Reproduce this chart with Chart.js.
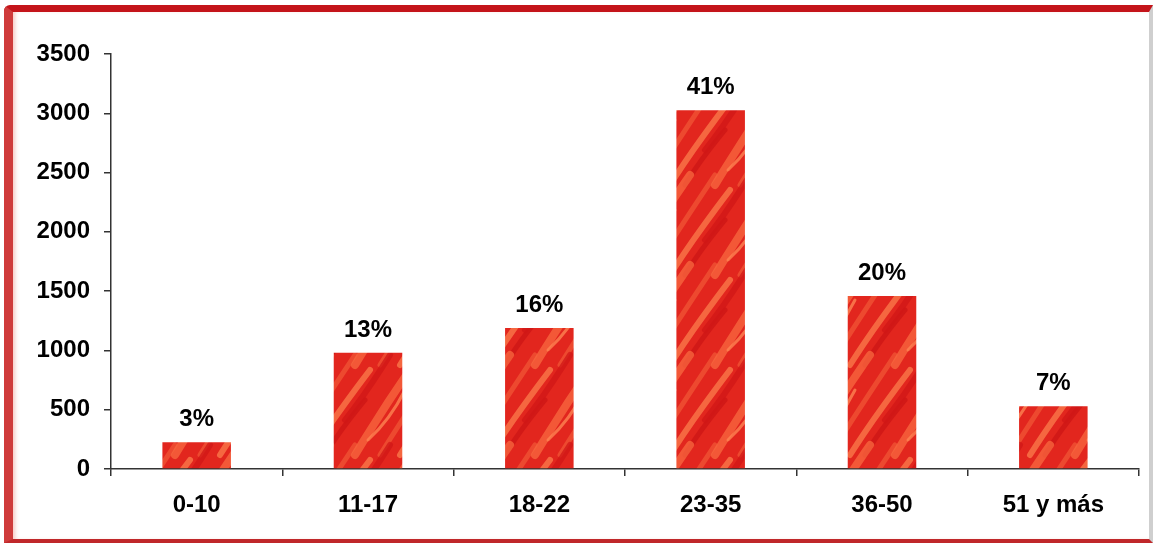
<!DOCTYPE html>
<html>
<head>
<meta charset="utf-8">
<script src="https://cdn.jsdelivr.net/npm/chart.js@4/dist/chart.umd.min.js"></script>
<style>
  html, body { margin: 0; padding: 0; background: #fff; }
  #frame {
    position: absolute; left: 4px; top: 5px; width: 1136px; height: 527px;
    border-top: 7px solid #c4141a;
    border-left: 9px solid #cf3b3b;
    border-bottom: 4px solid #c0282a;
    border-right: 4px solid #cfcfcf;
    border-top-left-radius: 6px;
    background: #fff;
    box-shadow: inset 4px 0 4px -2px rgba(240,160,150,0.6);
  }
  #wrap { position: absolute; left: 0; top: 0; width: 1157px; height: 548px; }
</style>
</head>
<body>
<div id="frame"></div>
<div id="wrap"><canvas id="edadChart"></canvas></div>
<script>
// rangos de edad
var categorias = ['0-10', '11-17', '18-22', '23-35', '36-50', '51 y más'];
var valores = [225, 980, 1190, 3025, 1460, 530];
var porcentajes = ['3%', '13%', '16%', '41%', '20%', '7%'];
var ticksY = [0, 500, 1000, 1500, 2000, 2500, 3000, 3500];

var fuente = '"Liberation Sans", Arial, sans-serif';

// textura roja de las barras (tile sin costuras)
function texturaRoja() {
    var t = 90;
    var c = document.createElement('canvas');
    c.width = t; c.height = t;
    var g = c.getContext('2d');
    g.fillStyle = '#e2261e';
    g.fillRect(0, 0, t, t);
    var trazos = [
        [-5, 95, 25, 45, 60, -5, '#f86a40', 8],
        [20, 95, 45, 55, 85, -5, '#f05535', 5],
        [40, 95, 62, 60, 100, 10, '#fb7e4c', 6],
        [-15, 60, 5, 35, 30, -5, '#d01717', 6],
        [55, 95, 70, 70, 95, 40, '#cc1616', 5],
        [8, 80, 30, 60, 45, 30, '#ff8a55', 3]
    ];
    g.lineCap = 'round';
    for (var dx = -t; dx <= t; dx += t) {
        for (var dy = -t; dy <= t; dy += t) {
            trazos.forEach(function (s) {
                g.strokeStyle = s[6];
                g.lineWidth = s[7];
                g.globalAlpha = 0.75;
                g.beginPath();
                g.moveTo(s[0] + dx, s[1] + dy);
                g.quadraticCurveTo(s[2] + dx, s[3] + dy, s[4] + dx, s[5] + dy);
                g.stroke();
            });
        }
    }
    return g.createPattern(c, 'repeat');
}

var etiquetasPlugin = {
    id: 'etiquetas',
    afterDatasetsDraw: function (chart) {
        var ctx = chart.ctx;
        var meta = chart.getDatasetMeta(0);
        ctx.save();
        ctx.font = 'bold 24px ' + fuente;
        ctx.fillStyle = '#000';
        ctx.textAlign = 'center';
        ctx.textBaseline = 'alphabetic';
        meta.data.forEach(function (bar, i) {
            ctx.fillText(porcentajes[i], bar.x, bar.y - 16);
        });
        ctx.restore();
    }
};

var ctxEdad = document.getElementById('edadChart').getContext('2d');
var edadChart = new Chart(ctxEdad, {
    type: 'bar',
    data: {
        labels: categorias,
        datasets: [{
            data: valores,
            backgroundColor: texturaRoja(),
            borderWidth: 0,
            barPercentage: 0.4,
            categoryPercentage: 1
        }]
    },
    options: {
        responsive: true,
        maintainAspectRatio: false,
        animation: false,
        layout: { padding: { top: 54, right: 18, left: 0, bottom: 0 } },
        plugins: { legend: { display: false }, tooltip: { enabled: false } },
        scales: {
            y: {
                min: 0,
                max: 3500,
                afterBuildTicks: function (axis) {
                    axis.ticks = ticksY.map(function (v) { return { value: v }; });
                },
                afterFit: function (axis) { axis.width = 111; },
                border: { display: true, color: '#333', width: 1.5 },
                grid: { drawOnChartArea: false, drawTicks: true, tickLength: 7, color: '#333', lineWidth: 1.5 },
                ticks: {
                    padding: 14,
                    color: '#000',
                    callback: function (v) { return String(v); },
                    font: { family: fuente, size: 24, weight: 'bold' }
                }
            },
            x: {
                afterFit: function (axis) { axis.height = 79; },
                border: { display: true, color: '#333', width: 1.5 },
                grid: { drawOnChartArea: false, drawTicks: true, tickLength: 7, color: '#333', lineWidth: 1.5 },
                ticks: {
                    padding: 15,
                    color: '#000',
                    font: { family: fuente, size: 24, weight: 'bold' }
                }
            }
        }
    },
    plugins: [etiquetasPlugin]
});
</script>
</body>
</html>
